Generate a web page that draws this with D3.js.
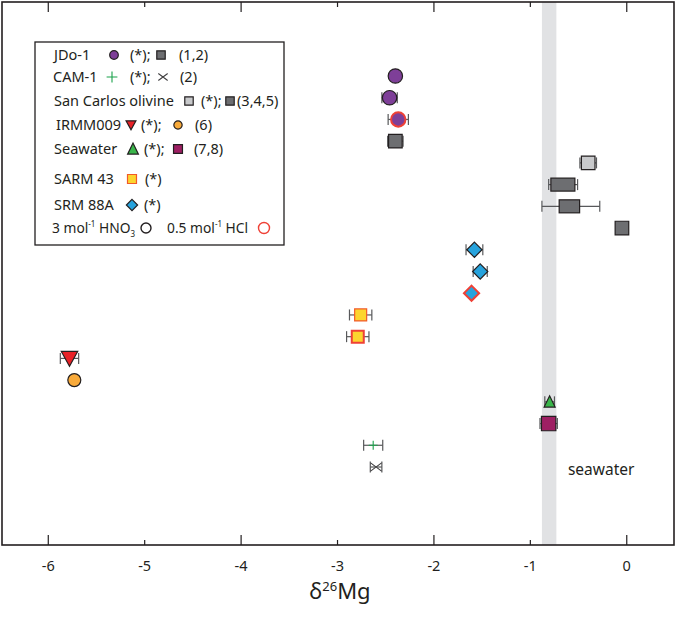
<!DOCTYPE html>
<html>
<head>
<meta charset="utf-8">
<script src="https://cdn.jsdelivr.net/npm/d3@7"></script>
<style>
  body { margin: 0; background: #fff; }
  svg text { font-family: "Noto Sans", sans-serif; fill: #231f20; }
</style>
</head>
<body>
<svg width="676" height="617"></svg>
<script>
  // one row per measurement, top to bottom
  const delta   = [-2.40, -2.46, -2.37, -2.40, -0.40, -0.66, -0.58, -0.05, -1.58, -1.52, -1.61, -2.76, -2.79, -5.78, -5.73, -0.80, -0.81, -2.63, -2.60];
  const err2sd  = [0, 0.08, 0.105, 0.08, 0.086, 0.15, 0.30, 0, 0.087, 0.073, 0, 0.116, 0.116, 0.095, 0, 0.05, 0.09, 0.099, 0.06];
  const sample  = ["jdo", "jdo", "jdo", "jdoLit", "sc", "scLit", "scLit", "scLit", "srm", "srm", "srm", "sarm", "sarm", "irmm", "irmmLit", "sw", "swLit", "cam", "camLit"];
  const acid    = ["HNO3", "HNO3", "HCl", "", "HNO3", "", "", "", "HNO3", "HNO3", "HCl", "HNO3", "HCl", "HNO3", "", "HNO3", "", "HNO3", ""];
  // literature values reported as a range
  const rangeLo = [null, null, null, null, null, -0.787, -0.701, null, null, null, null, null, null, null, null, null, null, null, null];
  const rangeHi = [null, null, null, null, null, -0.538, -0.489, null, null, null, null, null, null, null, null, null, null, null, null];

  const seawaterBand = [-0.88, -0.73];
  const xTicks = [-6, -5, -4, -3, -2, -1, 0];

  const svg = d3.select("svg");
  const plotL = 2, plotR = 674, plotT = 2, plotB = 545;

  const x = d3.scaleLinear().domain([-6.48, 0.49]).range([plotL, plotR]);
  const y = d3.scaleLinear().domain([0, sample.length - 1]).range([76, 467]);

  const styles = {
    jdo:     { shape: "circle",  fill: "#7e3f98", size: 7.2 },
    jdoLit:  { shape: "square",  fill: "#6d6e71", size: 6.8 },
    sc:      { shape: "square",  fill: "#c8c9cb", size: 6.8 },
    scLit:   { shape: "square",  fill: "#6d6e71", size: 6.8 },
    srm:     { shape: "diamond", fill: "#27a3dd", size: 7.6 },
    sarm:    { shape: "square",  fill: "#fcd52f", size: 6, stroke: "#f15a29" },
    irmm:    { shape: "triDown", fill: "#e82127", size: 8.2 },
    irmmLit: { shape: "circle",  fill: "#f8aa3a", size: 6.5 },
    sw:      { shape: "triUp",   fill: "#39b54a", size: 5.5 },
    swLit:   { shape: "square",  fill: "#9e1f63", size: 7.2 },
    cam:     { shape: "plus",    fill: "none", size: 4.5, stroke: "#1ba24b" },
    camLit:  { shape: "cross",   fill: "none", size: 5.5, stroke: "#414042" }
  };

  const markerPath = (shape, s) => {
    switch (shape) {
      case "circle":  return `M${s},0A${s},${s} 0 1,1 ${-s},0A${s},${s} 0 1,1 ${s},0Z`;
      case "square":  return `M${-s},${-s}H${s}V${s}H${-s}Z`;
      case "diamond": return `M0,${-s}L${s},0L0,${s}L${-s},0Z`;
      case "triDown": return `M${-s},${-s * 0.85}H${s}L0,${s * 0.95}Z`;
      case "triUp":   return `M${-s},${s * 0.95}H${s}L0,${-s * 1.1}Z`;
      case "plus":    return `M${-s},0H${s}M0,${-s}V${s}`;
      case "cross":   return `M${-s},${-s * 0.75}L${s},${s * 0.75}M${-s},${s * 0.75}L${s},${-s * 0.75}`;
    }
  };

  const drawMarker = (g, key, scale, hcl) => {
    const st = styles[key];
    const open = st.shape === "plus" || st.shape === "cross";
    g.append("path")
      .attr("d", markerPath(st.shape, st.size * scale))
      .attr("fill", st.fill)
      .attr("stroke", hcl ? "#ef4136" : (st.stroke || "#231f20"))
      .attr("stroke-width", hcl ? 2 : (open ? 1.1 : 1.2));
  };

  // seawater band
  svg.append("rect")
    .attr("x", x(seawaterBand[0]))
    .attr("y", plotT)
    .attr("width", x(seawaterBand[1]) - x(seawaterBand[0]))
    .attr("height", plotB - plotT)
    .attr("fill", "#e1e2e4");

  svg.append("text")
    .attr("x", x(-0.61))
    .attr("y", 475)
    .attr("font-size", 15.5)
    .text("seawater");

  // frame + ticks (inward, top and bottom)
  svg.append("rect")
    .attr("x", plotL).attr("y", plotT)
    .attr("width", plotR - plotL).attr("height", plotB - plotT)
    .attr("fill", "none").attr("stroke", "#231f20").attr("stroke-width", 1.6);

  const tickLen = d => d % 2 === 0 ? 10 : 5;
  svg.append("g").selectAll("line").data(xTicks).join("line")
    .attr("x1", d => x(d)).attr("x2", d => x(d))
    .attr("y1", plotB).attr("y2", d => plotB - tickLen(d))
    .attr("stroke", "#231f20").attr("stroke-width", 1.2);
  svg.append("g").selectAll("line").data(xTicks).join("line")
    .attr("x1", d => x(d)).attr("x2", d => x(d))
    .attr("y1", plotT).attr("y2", d => plotT + tickLen(d))
    .attr("stroke", "#231f20").attr("stroke-width", 1.2);
  svg.append("g").selectAll("text").data(xTicks).join("text")
    .attr("x", d => x(d))
    .attr("y", 571)
    .attr("text-anchor", "middle")
    .attr("font-size", 14.5)
    .text(d => d);

  const title = svg.append("text")
    .attr("x", 340).attr("y", 599)
    .attr("text-anchor", "middle")
    .attr("font-size", 22);
  title.append("tspan").text("δ");
  title.append("tspan").attr("font-size", 13).attr("dy", -8).text("26");
  title.append("tspan").attr("dy", 8).text("Mg");

  // error bars
  const rows = sample.map((s, i) => ({ i, s, v: delta[i], e: err2sd[i], acid: acid[i], lo: rangeLo[i], hi: rangeHi[i] }));
  const eb = svg.append("g").attr("stroke", "#58595b").attr("stroke-width", 1.2);
  rows.filter(d => d.e > 0).forEach(d => {
    const cy = y(d.i), x0 = x(d.v - d.e), x1 = x(d.v + d.e);
    eb.append("line").attr("x1", x0).attr("x2", x1).attr("y1", cy).attr("y2", cy);
    eb.append("line").attr("x1", x0).attr("x2", x0).attr("y1", cy - 5.5).attr("y2", cy + 5.5);
    eb.append("line").attr("x1", x1).attr("x2", x1).attr("y1", cy - 5.5).attr("y2", cy + 5.5);
  });

  // markers
  rows.forEach(d => {
    if (d.lo !== null) {
      svg.append("rect")
        .attr("x", x(d.lo)).attr("y", y(d.i) - 6.5)
        .attr("width", x(d.hi) - x(d.lo)).attr("height", 13)
        .attr("fill", styles[d.s].fill)
        .attr("stroke", "#231f20").attr("stroke-width", 1.2);
      return;
    }
    const g = svg.append("g").attr("transform", `translate(${x(d.v)},${y(d.i)})`);
    drawMarker(g, d.s, 1, d.acid === "HCl");
  });

  // legend
  const lg = svg.append("g");
  lg.append("rect")
    .attr("x", 35).attr("y", 42).attr("width", 249).attr("height", 203)
    .attr("fill", "#fff").attr("stroke", "#231f20").attr("stroke-width", 1.3);

  const legendRows = [
    { y: 55,  items: [["t", 54, "JDo-1"], ["m", 114, "jdo"], ["t", 130, "(*);"], ["m", 161, "jdoLit"], ["t", 179, "(1,2)"]] },
    { y: 77,  items: [["t", 53, "CAM-1"], ["m", 112, "cam"], ["t", 130, "(*);"], ["m", 163, "camLit"], ["t", 180, "(2)"]] },
    { y: 101, items: [["t", 54, "San Carlos olivine"], ["m", 189, "sc"], ["t", 201, "(*);"], ["m", 230, "scLit"], ["t", 237, "(3,4,5)"]] },
    { y: 125, items: [["t", 56, "IRMM009"], ["m", 131, "irmm"], ["t", 141, "(*);"], ["m", 178, "irmmLit"], ["t", 195, "(6)"]] },
    { y: 149, items: [["t", 54, "Seawater"], ["m", 133, "sw"], ["t", 144, "(*);"], ["m", 178, "swLit"], ["t", 194, "(7,8)"]] },
    { y: 179, items: [["t", 54, "SARM 43"], ["m", 132, "sarm"], ["t", 145, "(*)"]] },
    { y: 205, items: [["t", 54, "SRM 88A"], ["m", 132, "srm"], ["t", 144, "(*)"]] }
  ];
  const lscale = { jdo: 0.6, jdoLit: 0.62, sc: 0.62, scLit: 0.62, srm: 0.74, sarm: 0.75, irmm: 0.6, irmmLit: 0.64, sw: 0.98, swLit: 0.62, cam: 1.2, camLit: 0.85 };
  legendRows.forEach(r => {
    r.items.forEach(([kind, lx, val]) => {
      if (kind === "t") {
        lg.append("text").attr("x", lx).attr("y", r.y + 5).attr("font-size", 14.5).text(val);
      } else {
        const g = lg.append("g").attr("transform", `translate(${lx},${r.y})`);
        drawMarker(g, val, lscale[val], false);
      }
    });
  });

  const acidRow = 228;
  const t1 = lg.append("text").attr("x", 52).attr("y", acidRow + 5).attr("font-size", 13.8);
  t1.append("tspan").text("3 mol");
  t1.append("tspan").attr("font-size", 8).attr("dy", -6).text("-1");
  t1.append("tspan").attr("dy", 6).text(" HNO");
  t1.append("tspan").attr("font-size", 8).attr("dy", 4).text("3");
  lg.append("circle").attr("cx", 146).attr("cy", acidRow).attr("r", 5)
    .attr("fill", "none").attr("stroke", "#231f20").attr("stroke-width", 1.4);
  const t2 = lg.append("text").attr("x", 167).attr("y", acidRow + 5).attr("font-size", 13.8);
  t2.append("tspan").text("0.5 mol");
  t2.append("tspan").attr("font-size", 8).attr("dy", -6).text("-1");
  t2.append("tspan").attr("dy", 6).text(" HCl");
  lg.append("circle").attr("cx", 264).attr("cy", acidRow).attr("r", 5.5)
    .attr("fill", "none").attr("stroke", "#ef4136").attr("stroke-width", 1.4);
</script>
</body>
</html>
